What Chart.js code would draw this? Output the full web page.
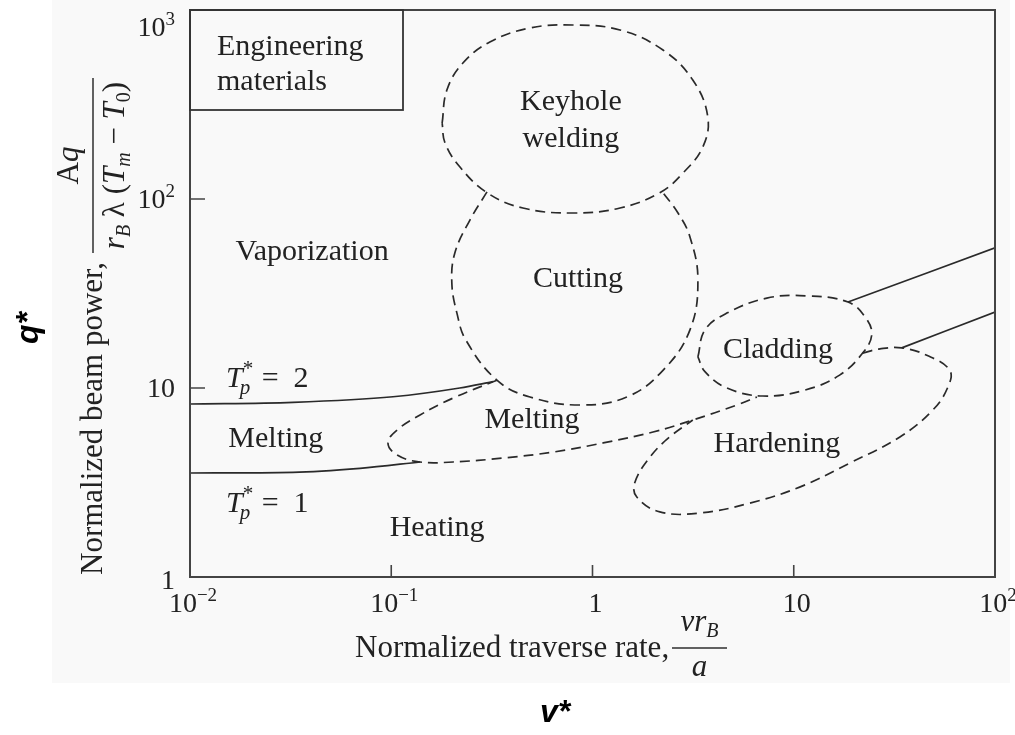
<!DOCTYPE html>
<html lang="en">
<head>
  <meta charset="UTF-8" />
  <title>Laser processing map</title>
  <style>
    html, body { margin: 0; padding: 0; background: #fff; }
    #wrap { width: 1015px; height: 735px; }
    canvas { display: block; }
  </style>
</head>
<body>
  <div id="wrap"><canvas id="processMap" width="1015" height="735"></canvas></div>

  <script src="https://cdn.jsdelivr.net/npm/chart.js"></script>
  <script>
// axis ticks (log scales)
const xTicks = [0.01, 0.1, 1, 10, 100];
const xTickLabels = [["10", "−2"], ["10", "−1"], ["1", ""], ["10", ""], ["10", "2"]];
const yTicks = [1, 10, 100, 1000];
const yTickLabels = [["1", ""], ["10", ""], ["10", "2"], ["10", "3"]];

// solid T_p* boundaries  [v*, q*]
const tp2Left = [[0.01, 8.23], [0.0325, 8.40], [0.102, 8.99], [0.219, 10.0], [0.32, 10.8]];
const tp2Right = [[18.6, 28.5], [100, 55.1]];
const tp1Left = [[0.01, 3.55], [0.0325, 3.58], [0.070, 3.76], [0.139, 4.06]];
const tp1Right = [[34.4, 16.3], [100, 25.2]];

// dashed process regions  [v*, q*]
const keyholeOutline = [[0.179, 252], [0.189, 377], [0.227, 524], [0.309, 677], [0.489, 803], [0.799, 833],
  [1.37, 784], [2.24, 614], [3.15, 426], [3.74, 272], [3.53, 188], [2.81, 137], [2.16, 108], [1.37, 89.6],
  [0.80, 84.3], [0.451, 89.6], [0.299, 108], [0.219, 148], [0.185, 198], [0.179, 252]];
const cuttingOutline = [[0.299, 109], [0.246, 77.4], [0.207, 51.8], [0.200, 35.9], [0.212, 24.9], [0.235, 17.9],
  [0.335, 11.0], [0.489, 8.96], [0.866, 8.13], [1.48, 8.96], [2.24, 12.4], [3.05, 20.3], [3.34, 37.3],
  [3.05, 63.0], [2.66, 84.3], [2.24, 108]];
const meltingOutline = [[0.335, 11.0], [0.203, 8.85], [0.139, 7.20], [0.107, 6.00], [0.0963, 5.12], [0.107, 4.42],
  [0.139, 4.06], [0.203, 4.06], [0.359, 4.26], [0.636, 4.58], [1.13, 5.12], [2.00, 5.85], [3.15, 6.77],
  [5.22, 8.13], [6.56, 8.96]];
const claddingOutline = [[3.34, 14.6], [3.62, 20.3], [4.65, 24.9], [7.35, 29.9], [11.6, 30.7], [18.6, 28.5],
  [22.8, 23.5], [24.4, 19.1], [22.0, 15.3], [16.9, 11.7], [11.4, 9.76], [7.02, 9.07], [4.65, 10.0],
  [3.62, 12.2], [3.34, 14.6]];
const hardeningOutline = [[22.0, 15.3], [26.8, 16.1], [34.4, 16.3], [45.8, 14.9], [59.6, 12.4], [58.3, 10.1],
  [49.1, 7.65], [33.7, 5.51], [19.0, 4.01], [10.7, 2.99], [6.05, 2.46], [3.42, 2.18], [2.16, 2.21],
  [1.66, 2.65], [1.62, 3.14], [1.93, 4.31], [2.42, 5.51], [3.15, 6.77]];

// region names, anchored at [v*, q*] (centre x, text baseline)
const regionNames = [["Keyhole", "welding"], ["Vaporization"], ["Cutting"], ["Melting"], ["Melting"],
  ["Cladding"], ["Hardening"], ["Heating"]];
const regionAt = [[0.781, 296], [0.0404, 47.6], [0.846, 34.2], [0.500, 6.14], [0.0267, 4.87],
  [8.34, 14.4], [8.24, 4.58], [0.169, 1.65]];
const tpValues = ["2", "1"];
const tpAt = [[0.0151, 10.1], [0.0151, 2.21]];

const SERIF = '"Liberation Serif", "Times New Roman", serif';
const SANS = '"Liberation Sans", Arial, sans-serif';
const INK = "#222";

const toXY = arr => arr.map(p => ({ x: p[0], y: p[1] }));

function solid(data) {
  return { data: toXY(data), showLine: true, pointRadius: 0, borderColor: "#2a2a2a",
    borderWidth: 1.7, cubicInterpolationMode: "monotone" };
}
function dashed(data) {
  return { data: toXY(data), showLine: true, pointRadius: 0, borderColor: "#2a2a2a",
    borderWidth: 1.7, borderDash: [10, 6], tension: 0.4 };
}

// draw a run of text pieces [text, font, dy]
function runs(ctx, parts, x, y, align) {
  let w = 0;
  parts.forEach(p => { ctx.font = p[1]; w += ctx.measureText(p[0]).width; });
  let cx = align === "center" ? x - w / 2 : align === "right" ? x - w : x;
  ctx.textAlign = "left";
  ctx.textBaseline = "alphabetic";
  parts.forEach(p => {
    ctx.font = p[1];
    ctx.fillText(p[0], cx, y + (p[2] || 0));
    cx += ctx.measureText(p[0]).width;
  });
}

function powParts(lbl) {
  const out = [[lbl[0], "28px " + SERIF, 0]];
  if (lbl[1]) out.push([lbl[1], "19px " + SERIF, -11]);
  return out;
}

const mapDecor = {
  id: "mapDecor",
  beforeDraw(chart) {
    const ctx = chart.ctx;
    ctx.save();
    ctx.fillStyle = "#f9f9f9";
    ctx.fillRect(52, 0, 958, 683);
    ctx.restore();
  },
  afterDraw(chart) {
    const ctx = chart.ctx;
    const a = chart.chartArea;
    const xs = chart.scales.x, ys = chart.scales.y;
    ctx.save();

    // frame + inward ticks
    ctx.strokeStyle = "#444";
    ctx.lineWidth = 2;
    ctx.strokeRect(a.left, a.top, a.right - a.left, a.bottom - a.top);
    ctx.lineWidth = 1.6;
    ctx.beginPath();
    xTicks.slice(1, -1).forEach(v => {
      const px = xs.getPixelForValue(v);
      ctx.moveTo(px, a.bottom); ctx.lineTo(px, a.bottom - 12);
    });
    yTicks.slice(1, -1).forEach(v => {
      const py = ys.getPixelForValue(v);
      ctx.moveTo(a.left, py); ctx.lineTo(a.left + 15, py);
    });
    ctx.stroke();

    // tick labels
    ctx.fillStyle = INK;
    xTicks.forEach((v, i) => {
      runs(ctx, powParts(xTickLabels[i]), xs.getPixelForValue(v) + 3, a.bottom + 35, "center");
    });
    yTicks.forEach((v, i) => {
      const py = ys.getPixelForValue(v);
      let yb = py + 9;
      if (i === 0) yb += 3;
      if (py <= a.top + 1) yb = a.top + 26;
      runs(ctx, powParts(yTickLabels[i]), a.left - 15, yb, "right");
    });

    // "Engineering materials" box
    ctx.strokeStyle = "#333";
    ctx.lineWidth = 1.8;
    ctx.strokeRect(a.left, a.top, 213, 100);
    ctx.font = "30px " + SERIF;
    ctx.textAlign = "left";
    ctx.fillText("Engineering", a.left + 27, a.top + 45);
    ctx.fillText("materials", a.left + 27, a.top + 80);

    // region names
    ctx.textAlign = "center";
    regionNames.forEach((lines, i) => {
      const px = xs.getPixelForValue(regionAt[i][0]);
      const py = ys.getPixelForValue(regionAt[i][1]);
      ctx.font = "30px " + SERIF;
      lines.forEach((t, k) => ctx.fillText(t, px, py + k * 37));
    });

    // T_p* labels
    tpValues.forEach((val, i) => {
      const px = xs.getPixelForValue(tpAt[i][0]);
      const py = ys.getPixelForValue(tpAt[i][1]);
      ctx.textAlign = "left";
      ctx.font = "italic 30px " + SERIF;
      ctx.fillText("T", px, py);
      const wT = ctx.measureText("T").width;
      ctx.font = "21px " + SERIF;
      ctx.fillText("*", px + wT, py - 12);
      ctx.font = "italic 21px " + SERIF;
      ctx.fillText("p", px + wT - 3, py + 7);
      ctx.font = "30px " + SERIF;
      ctx.fillText("=  " + val, px + wT + 19, py);
    });

    // x axis title
    ctx.textAlign = "left";
    ctx.font = "31px " + SERIF;
    ctx.fillText("Normalized traverse rate,", 355, 657);
    ctx.fillRect(672, 647.3, 55, 1.4);
    runs(ctx, [["ν", "italic 31px " + SERIF], ["r", "italic 31px " + SERIF], ["B", "italic 20px " + SERIF, 6]], 699.5, 631, "center");
    runs(ctx, [["a", "italic 31px " + SERIF]], 699.5, 676, "center");

    // y axis title (rotated)
    ctx.save();
    ctx.rotate(-Math.PI / 2);
    ctx.textAlign = "left";
    ctx.font = "31px " + SERIF;
    ctx.fillText("Normalized beam power,", -575, 102);
    ctx.fillRect(-253, 92.3, 175, 1.4);
    runs(ctx, [["A", "31px " + SERIF], ["q", "italic 31px " + SERIF]], -165.5, 78, "center");
    runs(ctx, [
      ["r", "italic 31px " + SERIF], ["B", "italic 20px " + SERIF, 6], [" λ (", "31px " + SERIF],
      ["T", "italic 31px " + SERIF], ["m", "italic 20px " + SERIF, 6], [" − ", "31px " + SERIF],
      ["T", "italic 31px " + SERIF], ["0", "20px " + SERIF, 6], [")", "31px " + SERIF]
    ], -165.5, 124, "center");
    ctx.font = "italic bold 32px " + SANS;
    ctx.textAlign = "center";
    ctx.fillStyle = "#000";
    ctx.fillText("q*", -328, 38);
    ctx.restore();

    ctx.font = "italic bold 32px " + SANS;
    ctx.textAlign = "center";
    ctx.fillStyle = "#000";
    ctx.fillText("v*", 555, 722);

    ctx.restore();
  }
};

new Chart(document.getElementById("processMap"), {
  type: "scatter",
  data: {
    datasets: [
      solid(tp2Left), solid(tp2Right), solid(tp1Left), solid(tp1Right),
      dashed(keyholeOutline), dashed(cuttingOutline), dashed(meltingOutline),
      dashed(claddingOutline), dashed(hardeningOutline)
    ]
  },
  options: {
    responsive: false,
    animation: false,
    devicePixelRatio: 1,
    layout: { padding: { left: 190, top: 10, right: 20, bottom: 158 } },
    plugins: { legend: { display: false }, tooltip: { enabled: false } },
    scales: {
      x: {
        type: "logarithmic", min: 0.01, max: 100,
        ticks: { display: false }, grid: { display: false, drawTicks: false }, border: { display: false }
      },
      y: {
        type: "logarithmic", min: 1, max: 1000,
        ticks: { display: false }, grid: { display: false, drawTicks: false }, border: { display: false }
      }
    }
  },
  plugins: [mapDecor]
});
  </script>
</body>
</html>
